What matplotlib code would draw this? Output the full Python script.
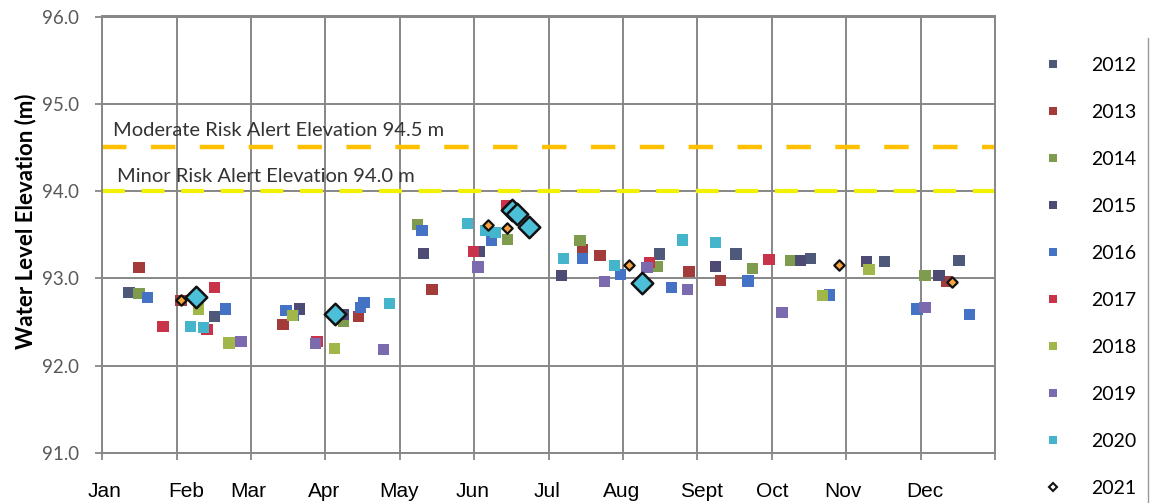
import matplotlib
matplotlib.use('Agg')
import matplotlib.pyplot as plt
from matplotlib.lines import Line2D
import numpy as np

# ---------------- data (day of year, water level elevation m) ----------------
years = ['2012', '2013', '2014', '2015', '2016', '2017', '2018', '2019', '2020', '2021']

d2012 = [10.9, 45.7, 228.0, 259.1, 289.4, 320.0, 350.3]
e2012 = [92.84, 92.56, 93.28, 93.28, 93.23, 93.19, 93.20]

d2013 = [15.0, 32.2, 73.9, 104.9, 134.8, 196.5, 203.5, 239.9, 252.9, 345.0]
e2013 = [93.12, 92.75, 92.47, 92.56, 92.87, 93.33, 93.26, 93.08, 92.98, 92.96]

d2014 = [15.0, 98.8, 128.7, 165.5, 195.3, 226.8, 266.0, 281.6, 336.4]
e2014 = [92.83, 92.51, 93.62, 93.45, 93.43, 93.14, 93.11, 93.20, 93.03]

d2015 = [80.8, 98.8, 131.5, 154.0, 187.9, 250.9, 285.3, 312.3, 342.1]
e2015 = [92.65, 92.59, 93.29, 93.31, 93.03, 93.14, 93.20, 93.19, 93.03]

d2016 = [18.3, 50.2, 75.1, 78.0, 105.4, 107.0, 130.7, 159.3, 196.5, 211.7, 232.9, 264.0, 297.2, 333.1, 354.4]
e2016 = [92.78, 92.65, 92.63, 92.58, 92.67, 92.72, 93.55, 93.44, 93.23, 93.04, 92.90, 92.97, 92.81, 92.65, 92.59]

d2017 = [24.8, 42.8, 45.7, 87.8, 151.6, 165.1, 223.9, 272.6]
e2017 = [92.45, 92.41, 92.90, 92.28, 93.31, 93.84, 93.18, 93.22]

d2018 = [39.5, 51.8, 77.6, 95.1, 294.3, 313.5]
e2018 = [92.65, 92.26, 92.58, 92.20, 92.80, 93.10]

d2019 = [56.7, 87.0, 114.8, 153.6, 205.5, 222.7, 239.1, 277.9, 336.4]
e2019 = [92.28, 92.25, 92.19, 93.13, 92.96, 93.12, 92.87, 92.61, 92.67]

d2020 = [35.9, 41.2, 117.6, 149.5, 156.5, 160.6, 188.4, 209.6, 237.4, 250.9]
e2020 = [92.45, 92.44, 92.71, 93.63, 93.55, 93.53, 93.23, 93.15, 93.44, 93.41]

d2021 = [32.2, 157.7, 165.5, 215.4, 301.2, 347.4]
e2021 = [92.75, 93.61, 93.58, 93.15, 93.15, 92.96]

# current-year readings (large diamonds, legend entry cut off in the reference)
d2022 = [38.3, 95.1, 167.5, 169.6, 174.5, 220.7]
e2022 = [92.79, 92.59, 93.78, 93.74, 93.59, 92.95]

month_labels = ['Jan', 'Feb', 'Mar', 'Apr', 'May', 'Jun', 'Jul', 'Aug', 'Sept', 'Oct', 'Nov', 'Dec']
month_label_days = [1, 34.5, 59.5, 90.5, 121.5, 151.5, 182, 212.5, 245, 274, 303, 336.5]

moderate_level = 94.5
minor_level = 94.0
moderate_text = 'Moderate Risk Alert Elevation 94.5 m'
minor_text = 'Minor Risk Alert Elevation 94.0 m'

# ---------------- style ----------------
square_colors = {
    '2012': '#4E5878', '2013': '#A33B3B', '2014': '#7F9B4E', '2015': '#4D4B73',
    '2016': '#4472C4', '2017': '#C8334A', '2018': '#A2B74A', '2019': '#7B6BAE',
    '2020': '#45B5CC',
}
series = [
    ('2012', d2012, e2012), ('2013', d2013, e2013), ('2014', d2014, e2014),
    ('2015', d2015, e2015), ('2016', d2016, e2016), ('2017', d2017, e2017),
    ('2018', d2018, e2018), ('2019', d2019, e2019), ('2020', d2020, e2020),
]

W, H = 1151, 503
fig = plt.figure(figsize=(W / 100, H / 100), dpi=100)
ax = fig.add_axes([102.3 / W, 1 - 453 / H, (995 - 102.3) / W, (453 - 16.5) / H])

grid_c = '#878787'
ax.set_xlim(0, 365)
ax.set_ylim(91, 96)

# gridlines: 12 equal x intervals, 1 m y intervals
ax.set_xticks(np.arange(13) * 365 / 12)
ax.set_xticklabels([''] * 13)
ax.set_xticks(month_label_days, minor=True)
ax.set_xticklabels(month_labels, minor=True, fontsize=15, family='Liberation Sans', color='black')
ax.tick_params(axis='x', which='major', direction='out', length=5, width=1.3, color=grid_c)
ax.tick_params(axis='x', which='minor', length=0, pad=21)
ax.set_yticks(np.arange(91, 97))
ax.set_yticklabels([f'{v:.1f}' for v in np.arange(91, 97)], fontsize=13.5, family='Lato', color='#595959')
ax.tick_params(axis='y', direction='out', length=5, width=1.3, color=grid_c, pad=12)
ax.grid(True, which='major', color=grid_c, lw=1.4, zorder=0)
ax.set_axisbelow(True)
for s in ax.spines.values():
    s.set_color(grid_c)
    s.set_linewidth(1.4)

# alert lines
ax.axhline(moderate_level, color='#FFC000', lw=3.2, dashes=(5.5, 5.5), zorder=1)
ax.axhline(minor_level, color='#F2F200', lw=3.0, dashes=(5.5, 4.0), zorder=1)
ax.text(4.4, 94.63, moderate_text, fontsize=14.5, family='Lato', color='#333333', va='baseline', ha='left')
ax.text(6.0, 94.10, minor_text, fontsize=14.5, family='Lato', color='#333333', va='baseline', ha='left')

# data
for yr, d, e in series:
    ax.scatter(d, e, marker='s', s=64, color=square_colors[yr], edgecolors='none', zorder=3)
ax.scatter(d2022, e2022, marker='D', s=120, facecolor='#4CC0D8', edgecolors='#111111', linewidths=1.8, zorder=4)
ax.scatter(d2021, e2021, marker='D', s=28, facecolor='#F7A440', edgecolors='#111111', linewidths=1.6, zorder=5)

# y label
fig.text(26 / W, 1 - 221 / H, 'Water Level Elevation (m)', rotation=90, ha='center', va='center',
         fontsize=16, family='Lato', fontweight='bold', color='black')

# legend
handles = [Line2D([], [], ls='', marker='s', markersize=5.5, color=square_colors[y], markeredgewidth=0) for y in years[:-1]]
handles.append(Line2D([], [], ls='', marker='D', markersize=4, markerfacecolor='white',
                      markeredgecolor='#111111', markeredgewidth=1.5))
fig.legend(handles, years, loc='upper left', bbox_to_anchor=(1043 / W, 1 - 57 / H), frameon=False,
           prop={'family': 'Lato', 'size': 14}, labelspacing=1.54, handlelength=1.0,
           handletextpad=1.5, borderpad=0, borderaxespad=0)

# right border of chart area
fig.add_artist(Line2D([1148 / W, 1148 / W], [0, 1 - 38 / H], color='#999999', lw=1.0))

fig.savefig('out.png', dpi=100, facecolor='white')
